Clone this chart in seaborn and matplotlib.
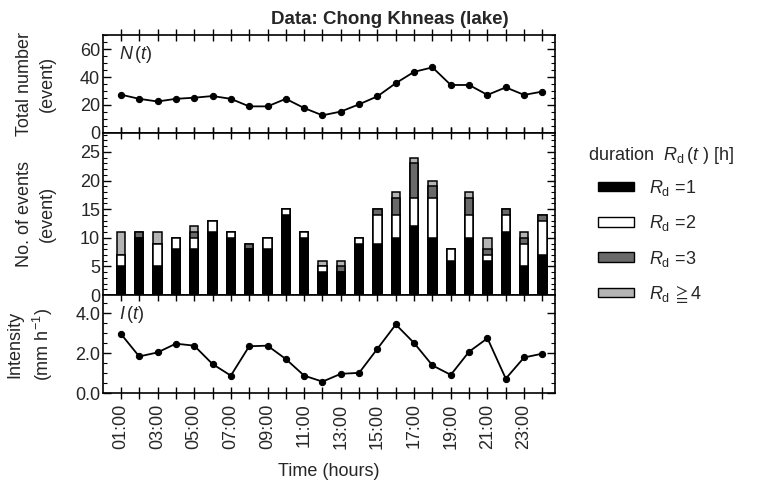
import numpy as np
import pandas as pd
import matplotlib
matplotlib.use("Agg")
import matplotlib.pyplot as plt
import seaborn as sns
from matplotlib.patches import Patch
from matplotlib.ticker import MultipleLocator

# ---------------- data ----------------
hours = list(range(1, 25))
tick_labels = [f"{h:02d}:00" if h % 2 == 1 else "" for h in hours]

total_n = [27.4, 24.4, 22.5, 24.4, 25.2, 26.4, 24.4, 19.0, 19.0, 24.4, 17.8, 12.6,
           15.3, 20.5, 26.2, 35.6, 43.7, 46.9, 34.3, 34.3, 27.2, 32.6, 27.2, 29.6]

rd1 = [5, 10, 5, 8, 8, 11, 10, 8, 8, 14, 10, 4, 4, 9, 9, 10, 12, 10, 6, 10, 6, 11, 5, 7]
rd2 = [2, 0, 4, 2, 2, 2, 1, 0, 2, 1, 1, 1, 0, 1, 5, 4, 5, 7, 2, 4, 1, 3, 4, 6]
rd3 = [0, 1, 0, 0, 1, 0, 0, 1, 0, 0, 0, 0, 1, 0, 1, 3, 6, 2, 0, 3, 1, 1, 1, 1]
rd4 = [4, 0, 2, 0, 1, 0, 0, 0, 0, 0, 0, 1, 1, 0, 0, 1, 1, 1, 0, 1, 2, 0, 1, 0]

intensity = [2.96, 1.83, 2.03, 2.47, 2.37, 1.45, 0.87, 2.34, 2.37, 1.70, 0.87, 0.57,
             0.96, 1.01, 2.22, 3.43, 2.50, 1.38, 0.91, 2.07, 2.74, 0.72, 1.78, 1.97]

legend_labels = [r"$R_\mathrm{d}$ =1", r"$R_\mathrm{d}$ =2",
                 r"$R_\mathrm{d}$ =3", r"$R_\mathrm{d}\,\geqq$4"]
seg_colors = ["#000000", "#ffffff", "#6a6a6a", "#b4b4b4"]

# ---------------- style ----------------
sns.set_theme(style="white")
plt.rcParams["font.family"] = ["Liberation Sans", "DejaVu Sans", "Noto Sans CJK JP"]
plt.rcParams["mathtext.fontset"] = "custom"
plt.rcParams["mathtext.rm"] = "Liberation Sans"
plt.rcParams["mathtext.it"] = "Liberation Sans:italic"
plt.rcParams["mathtext.fallback"] = "stix"
plt.rcParams["axes.edgecolor"] = "black"
plt.rcParams["axes.linewidth"] = 1.2

fs = 13
fig = plt.figure(figsize=(7.68, 4.87), dpi=100)
L, W = 0.134, 0.589
ax1 = fig.add_axes([L, 0.727, W, 0.201])
ax2 = fig.add_axes([L, 0.394, W, 0.333])
ax3 = fig.add_axes([L, 0.193, W, 0.201])

df = pd.DataFrame({"hour": hours, "N": total_n, "I": intensity,
                   "r1": rd1, "r2": rd2, "r3": rd3, "r4": rd4})

line_kw = dict(color="black", linewidth=1.3, marker="o", markersize=4.5,
               markeredgecolor="black")
sns.lineplot(data=df, x="hour", y="N", ax=ax1, **line_kw)
sns.lineplot(data=df, x="hour", y="I", ax=ax3, **line_kw)

# stacked bars drawn by overlaying cumulative sums
cums = [df["r1"], df["r1"] + df["r2"], df["r1"] + df["r2"] + df["r3"],
        df["r1"] + df["r2"] + df["r3"] + df["r4"]]
for k in [3, 2, 1, 0]:
    tmp = pd.DataFrame({"hour": hours, "v": cums[k]})
    sns.barplot(data=tmp, x="hour", y="v", ax=ax2, native_scale=True,
                color=seg_colors[k], edgecolor="black", linewidth=1.1,
                width=0.45, saturation=1, errorbar=None)

for ax in (ax1, ax2, ax3):
    ax.set_xlim(0.02, 24.7)
    ax.set_xticks(hours)
    ax.set_xlabel("")
    ax.tick_params(axis="x", which="major", direction="inout", length=8, width=1.0,
                   top=True, bottom=True, color="black")
    ax.tick_params(axis="y", which="both", direction="in", left=True, right=True,
                   color="black", labelsize=fs, pad=2)
    ax.tick_params(axis="y", which="major", length=6, width=1.0)
    ax.tick_params(axis="y", which="minor", length=3, width=0.8)
    for s in ax.spines.values():
        s.set_color("black")
        s.set_linewidth(1.2)

ax1.set_xticklabels([])
ax2.set_xticklabels([])
ax3.set_xticklabels(tick_labels, rotation=90, fontsize=fs)

ax1.set_ylim(0, 70)
ax1.yaxis.set_major_locator(MultipleLocator(20))
ax1.yaxis.set_minor_locator(MultipleLocator(5))
ax2.set_ylim(0, 28.3)
ax2.yaxis.set_major_locator(MultipleLocator(5))
ax2.yaxis.set_minor_locator(MultipleLocator(1))
ax3.set_ylim(0, 4.9)
ax3.set_yticks([0, 2, 4])
ax3.set_yticklabels(["0.0", "2.0", "4.0"])
ax3.yaxis.set_minor_locator(MultipleLocator(0.5))

ax1.set_ylabel("Total number\n(event)", fontsize=fs, linespacing=1.45)
ax2.set_ylabel("No. of events\n(event)", fontsize=fs, linespacing=1.45)
ax3.set_ylabel("Intensity\n(mm h$^{-1}$)", fontsize=fs, linespacing=1.45)
for ax in (ax1, ax2, ax3):
    ax.yaxis.set_label_coords(-0.105, 0.5)

ax1.text(0.035, 0.8, r"$N\,(t)$", transform=ax1.transAxes, fontsize=fs, va="center")
ax3.text(0.035, 0.8, r"$I\,(t)$", transform=ax3.transAxes, fontsize=fs, va="center")

ax3.set_xlabel("Time (hours)", fontsize=fs, labelpad=10)

fig.text(390 / 768, 1 - 20 / 487, "Data: Chong Khneas (lake)", fontsize=13.5,
         fontweight="bold", ha="center", va="center")

fig.text(588 / 768, 1 - 155 / 487, r"duration  $R_\mathrm{d}\,(t\ )$ [h]",
         fontsize=fs, ha="left", va="center")
handles = [Patch(facecolor=c, edgecolor="black", linewidth=1.0) for c in seg_colors]
leg = fig.legend(handles, legend_labels, loc="upper left",
                 bbox_to_anchor=(598 / 768, 1 - 178 / 487), frameon=False, fontsize=fs,
                 handlelength=2.0, handleheight=0.45, labelspacing=0.85,
                 handletextpad=0.8, borderaxespad=0, borderpad=0)

fig.savefig("out.png", dpi=100)
